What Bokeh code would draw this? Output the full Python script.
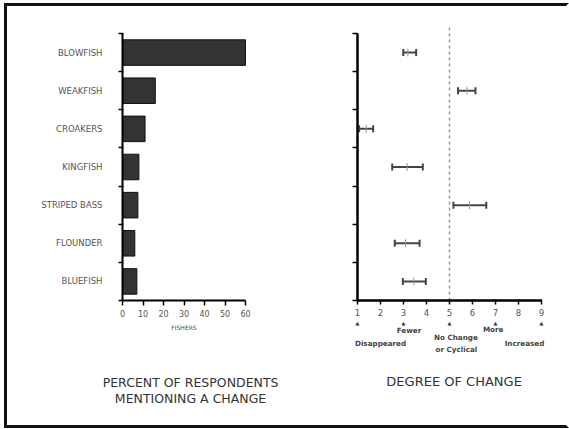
from bokeh.plotting import figure
from bokeh.models import (FixedTicker, Range1d, Whisker, TeeHead,
                          ColumnDataSource, Label)
from bokeh.layouts import row
from bokeh.embed import file_html
from bokeh.resources import INLINE
import numpy as np

# ---------------- data ----------------
species = ["BLOWFISH", "WEAKFISH", "CROAKERS", "KINGFISH",
           "STRIPED BASS", "FLOUNDER", "BLUEFISH"]
percent_mentioning = [60, 16, 11, 8, 7.5, 6, 7]
degree_low = [2.99, 5.37, 1.07, 2.51, 5.17, 2.62, 2.97]
degree_mid = [3.19, 5.76, 1.38, 3.16, 5.87, 3.09, 3.45]
degree_high = [3.55, 6.13, 1.68, 3.84, 6.60, 3.70, 3.97]
percent_ticks = [0, 10, 20, 30, 40, 50, 60]
degree_ticks = [1, 2, 3, 4, 5, 6, 7, 8, 9]
no_change_level = 5
scale_marks = [1, 3, 5, 7, 9]
scale_notes = [("Disappeared", 2.0, -1.13), ("Fewer", 3.24, -0.79),
               ("No Change", 5.28, -0.97), ("or Cyclical", 5.3, -1.28),
               ("More", 6.9, -0.76), ("Increased", 8.26, -1.13)]
left_title = ["PERCENT OF RESPONDENTS", "MENTIONING A CHANGE"]
right_title = "DEGREE OF CHANGE"

FONT = "DejaVu Sans"
n = len(species)
ypos = [n - i - 0.5 for i in range(n)]
bounds = list(range(n + 1))

src = ColumnDataSource(dict(y=ypos, pct=percent_mentioning, low=degree_low,
                            mid=degree_mid, high=degree_high, name=species))

# vertical extent shared by both panels (frame fills the whole figure)
Y0, Y1 = -3.277, 7.708

# ---------------- left panel ----------------
p1 = figure(width=293, height=419, x_range=Range1d(-56.1, 86.83),
            y_range=Range1d(Y0, Y1),
            output_backend="svg", toolbar_location=None, min_border=0)
p1.hbar(y="y", left=0, right="pct", height=0.67, fill_color="#333333",
        line_color="#111111", line_width=1, source=src)

xa = p1.xaxis[0]
xa.fixed_location = 0
xa.bounds = (0, 60)
xa.ticker = FixedTicker(ticks=percent_ticks)
xa.axis_label = "FISHERS"
xa.axis_label_text_font = FONT
xa.axis_label_text_font_size = "6px"
xa.axis_label_text_font_style = "normal"
xa.axis_label_text_color = "#444444"
xa.axis_label_standoff = 4
xa.major_label_text_font = FONT
xa.major_label_text_font_size = "8px"
xa.major_label_text_color = "#555555"
xa.major_label_standoff = 4
xa.major_tick_out = 5
xa.major_tick_in = 0
xa.minor_tick_line_color = None
xa.axis_line_width = 2
xa.major_tick_line_width = 1.5

ya = p1.yaxis[0]
ya.fixed_location = 0
ya.bounds = (0, n)
ya.ticker = FixedTicker(ticks=ypos, minor_ticks=bounds)
ya.major_label_overrides = {y: s for y, s in zip(ypos, species)}
ya.major_label_text_font = FONT
ya.major_label_text_font_size = "8.5px"
ya.major_label_text_color = "#555555"
ya.major_tick_line_color = None
ya.major_tick_out = 0
ya.major_tick_in = 0
ya.major_label_standoff = 16
ya.minor_tick_out = 4
ya.minor_tick_in = 1
ya.minor_tick_line_width = 1.5
ya.axis_line_width = 2

p1.grid.visible = False
p1.outline_line_color = None

for i, t in enumerate(left_title):
    p1.add_layout(Label(x=33.2, y=-2.15 - 0.42 * i, text=t, text_align="center",
                        text_baseline="middle", text_font=FONT,
                        text_font_size="12.5px", text_color="#333333"))

# ---------------- right panel ----------------
p2 = figure(width=266, height=419, x_range=Range1d(-1.478, 10.087),
            y_range=Range1d(Y0, Y1),
            output_backend="svg", toolbar_location=None, min_border=0)

p2.segment(x0=[no_change_level], y0=[0], x1=[no_change_level], y1=[7.16],
           line_color="#999999", line_dash="3 3", line_width=1.5)

p2.add_layout(Whisker(base="y", lower="low", upper="high", dimension="width",
                      source=src, line_color="#444444", line_width=2,
                      lower_head=TeeHead(size=7, line_color="#444444", line_width=2),
                      upper_head=TeeHead(size=7, line_color="#444444", line_width=2)))
p2.scatter(x="mid", y="y", marker="dash", angle=np.pi / 2, size=8,
           line_color="#999999", line_width=1, source=src)

xb = p2.xaxis[0]
xb.fixed_location = 0
xb.bounds = (1, 9)
xb.ticker = FixedTicker(ticks=degree_ticks)
xb.major_label_text_font = FONT
xb.major_label_text_font_size = "8.5px"
xb.major_label_text_color = "#555555"
xb.major_label_standoff = 4
xb.major_tick_out = 4
xb.major_tick_in = 1
xb.minor_tick_line_color = None
xb.axis_line_width = 2.5
xb.major_tick_line_width = 1.5

yb = p2.yaxis[0]
yb.fixed_location = 1
yb.bounds = (0, n)
yb.ticker = FixedTicker(ticks=bounds)
yb.major_label_overrides = {b: "" for b in bounds}
yb.major_tick_out = 5
yb.major_tick_in = 0
yb.major_tick_line_width = 1.5
yb.minor_tick_line_color = None
yb.axis_line_width = 2.5

p2.grid.visible = False
p2.outline_line_color = None

for m in scale_marks:
    p2.add_layout(Label(x=m, y=-0.60, text="▲", text_align="center",
                        text_baseline="middle", text_font=FONT,
                        text_font_size="5px", text_color="#333333"))
for txt, xv, yv in scale_notes:
    p2.add_layout(Label(x=xv, y=yv, text=txt, text_align="center",
                        text_baseline="middle", text_font=FONT,
                        text_font_size="7.2px", text_font_style="bold",
                        text_color="#444444"))
p2.add_layout(Label(x=5.2, y=-2.12, text=right_title, text_align="center",
                    text_baseline="middle", text_font=FONT,
                    text_font_size="13px", text_color="#333333"))

layout = row(p1, p2, styles={"border-top": "3px solid #111111",
                             "border-left": "3px solid #111111",
                             "border-bottom": "3px solid #111111",
                             "border-right": "3px solid #ffffff",
                             "margin-left": "4px", "margin-top": "3px"})

open("out.html", "w").write(file_html(layout, INLINE))
